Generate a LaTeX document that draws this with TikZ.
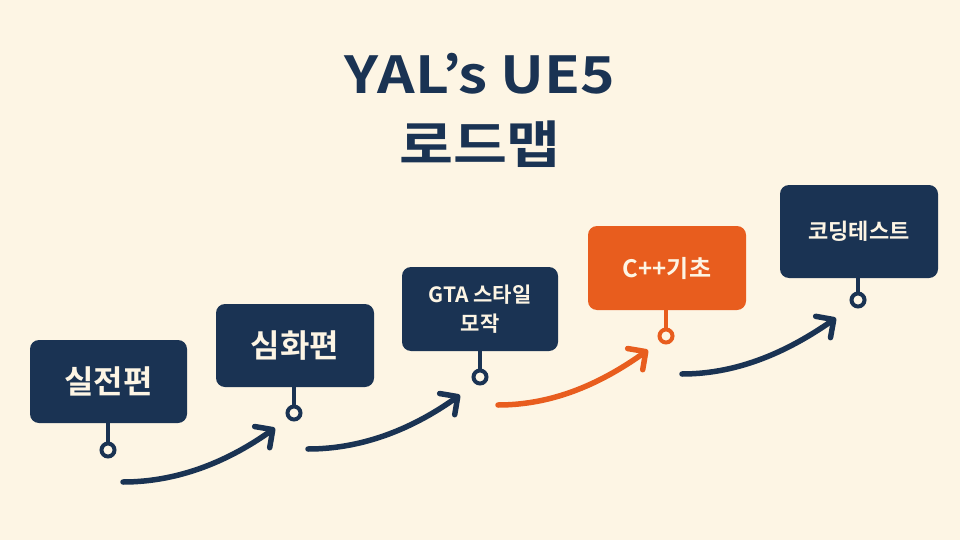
\documentclass[tikz,border=0pt]{standalone}
\usepackage{fontspec}
\setmainfont{Noto Sans CJK KR}[BoldFont={* Bold}]
\usetikzlibrary{arrows.meta}
\definecolor{navy}{HTML}{1A3353}
\definecolor{org}{HTML}{E85D1E}
\definecolor{bg}{HTML}{FDF5E4}
\definecolor{txt}{HTML}{FDF5E4}
\tikzset{
  stepbox/.style={fill=navy,rounded corners=9pt,text=txt,font=\bfseries,align=center,inner sep=0pt},
  pin/.style={draw=navy,line width=4pt},
  pinc/.style={draw=navy,line width=4pt,fill=bg,circle,minimum size=13pt,inner sep=0pt},
  flow/.style={draw=navy,line width=5.5pt,line cap=round,-{Straight Barb[length=13pt,width=26pt,line cap=round,line join=round]}},
  ttl/.style={text=navy,font=\bfseries\fontsize{51}{55}\selectfont,xscale=1.15},
}
\begin{document}
\begin{tikzpicture}[x=1pt,y=-1pt]
\fill[bg] (0,0) rectangle (960,540);
\node[ttl] (t1) at (480,74) {YAL\char"27 s UE5};
\node[ttl] (t2) at (480,144) {로드맵};

\node[stepbox,minimum width=157pt,minimum height=83pt,font=\bfseries\fontsize{32}{34}\selectfont] (b1) at (108.5,381.5) {실전편};
\node[stepbox,minimum width=158pt,minimum height=83pt,font=\bfseries\fontsize{32}{34}\selectfont] (b2) at (295,345.5) {심화편};
\node[stepbox,minimum width=156pt,minimum height=84pt,font=\bfseries\fontsize{21}{29}\selectfont] (b3) at (480,309) {GTA 스타일\\모작};
\node[stepbox,fill=org,minimum width=158pt,minimum height=84pt,font=\bfseries\fontsize{24}{28}\selectfont] (b4) at (667,268) {C++기초};
\node[stepbox,minimum width=158pt,minimum height=93pt,font=\bfseries\fontsize{22}{26}\selectfont] (b5) at (859,231.5) {코딩테스트};

\foreach \b/\x/\y/\c in {b1/108/450/navy,b2/294/413/navy,b3/480/377/navy,b4/666/336/org,b5/858/300/navy}{
  \node[pinc,draw=\c] (\b c) at (\x,\y) {};
  \draw[pin,draw=\c] (\b c.north) -- (\b c.north |- \b.south);
}
\coordinate (a1s) at (123,482); \coordinate (a1e) at (275,428);
\coordinate (a2s) at (308,449); \coordinate (a2e) at (460,395);
\coordinate (a3s) at (498,405); \coordinate (a3e) at (648,350);
\coordinate (a4s) at (682,374); \coordinate (a4e) at (836,318);
\draw[flow] (a1s) .. controls (180,482) and (230,460) .. (a1e);
\draw[flow] (a2s) .. controls (365,449) and (415,427) .. (a2e);
\draw[flow,draw=org] (a3s) .. controls (555,405) and (603,382) .. (a3e);
\draw[flow] (a4s) .. controls (740,374) and (790,350) .. (a4e);
\end{tikzpicture}
\end{document}
